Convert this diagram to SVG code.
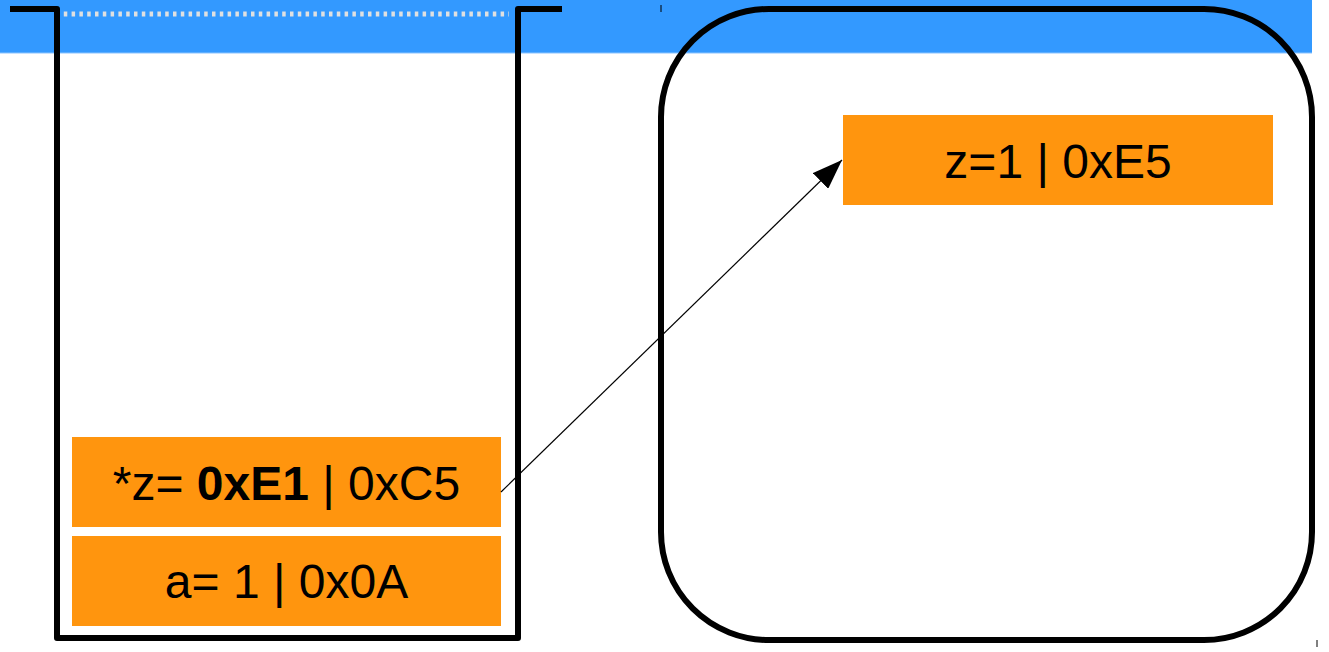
<svg xmlns="http://www.w3.org/2000/svg" width="1329" height="652" viewBox="0 0 1329 652">
<defs>
<style>
.box{fill:#ff950e}
.lbl{font-family:"Liberation Sans",Arial,sans-serif;font-size:48px;fill:#000;text-anchor:middle}
.frame{fill:none;stroke:#000;stroke-width:6;stroke-linejoin:round}
</style>
<marker id="arr" viewBox="0 0 30 22" refX="30" refY="11" markerWidth="30" markerHeight="22" markerUnits="userSpaceOnUse" orient="auto">
<path d="M0,0 L30,11 L0,22 Z" fill="#000"/>
</marker>
</defs>
<g id="background">
<rect x="0" y="0" width="1312" height="53" fill="#3399ff"/>
<line x1="0" y1="53" x2="1312" y2="53" stroke="#8cc4ff" stroke-width="1"/>
<line x1="56" y1="14" x2="509" y2="14" stroke="#e0e0e0" stroke-width="5" stroke-dasharray="3.5,4.3"/>
<line x1="661" y1="5" x2="661" y2="12" stroke="#000" stroke-width="1"/>
<line x1="1317" y1="640" x2="1317" y2="647" stroke="#000" stroke-width="1"/>
</g>
<g id="stack">
<path class="frame" d="M10,9 H57 V638 H518 V9 H562"/>
</g>
<g id="heap">
<rect class="frame" x="661" y="9" width="651" height="631" rx="108" ry="108"/>
</g>
<g id="node-z-ptr">
<rect class="box" x="72" y="437" width="429" height="90"/>
<text class="lbl" x="286.500" y="500">*z= <tspan font-weight="bold">0xE1</tspan> | 0xC5</text>
</g>
<g id="node-a">
<rect class="box" x="72" y="536" width="429" height="90"/>
<text class="lbl" x="286.500" y="598">a= 1 | 0x0A</text>
</g>
<g id="node-z-heap">
<rect class="box" x="843" y="115" width="430" height="90"/>
<text class="lbl" x="1058" y="178">z=1 | 0xE5</text>
</g>
<g id="connectors">
<line x1="501" y1="492" x2="842" y2="160" stroke="#000" stroke-width="1.2" marker-end="url(#arr)"/>
</g>
</svg>
